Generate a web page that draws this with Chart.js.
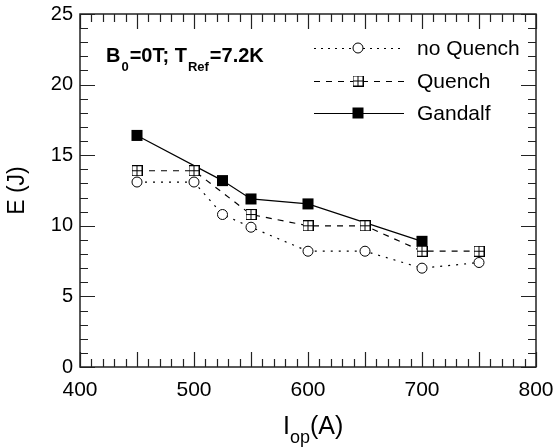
<!DOCTYPE html>
<html>
<head>
<meta charset="utf-8">
<script src="https://cdn.jsdelivr.net/npm/chart.js@4/dist/chart.umd.min.js"></script>
<style>
html,body{margin:0;padding:0;background:#fff;}
#wrap{width:555px;height:448px;position:relative;}
</style>
</head>
<body>
<div id="wrap"><canvas id="c" width="555" height="448"></canvas></div>
<script>
const currents = [450, 500, 525, 550, 600, 650, 700, 750];
const noQuenchX = [450, 500, 525, 550, 600, 650, 700, 750];
const noQuenchE = [13.1, 13.1, 10.8, 9.9, 8.2, 8.2, 7.0, 7.4];
const quenchX = [450, 500, 550, 600, 650, 700, 750];
const quenchE = [13.9, 13.9, 10.8, 10.0, 10.0, 8.2, 8.2];
const gandalfX = [450, 525, 550, 600, 700];
const gandalfE = [16.4, 13.2, 11.9, 11.55, 8.9];
const seriesNames = ['no Quench', 'Quench', 'Gandalf'];
const xTickLabels = [400, 500, 600, 700, 800];
const yTickLabels = [0, 5, 10, 15, 20, 25];

const FONT = '"Liberation Sans", Arial, Helvetica, sans-serif';

function pts(xs, ys){ return xs.map((x,i)=>({x:x, y:ys[i]})); }

// Crossed-square marker image
function crossSquare(size){
  const c = document.createElement('canvas');
  c.width = size; c.height = size;
  const g = c.getContext('2d');
  g.fillStyle = '#fff';
  g.fillRect(0,0,size,size);
  g.strokeStyle = '#000';
  g.lineWidth = 1;
  g.strokeRect(0.5,0.5,size-1,size-1);
  g.beginPath();
  g.moveTo(size/2, 0); g.lineTo(size/2, size);
  g.moveTo(0, size/2); g.lineTo(size, size/2);
  g.stroke();
  return c;
}
const qMarker = crossSquare(11);

const ticksPlugin = {
  id: 'frameTicks',
  afterDraw(chart){
    const ctx = chart.ctx;
    const a = chart.chartArea;
    const xs = chart.scales.x, ys = chart.scales.y;
    ctx.save();
    ctx.strokeStyle = '#222';
    ctx.lineWidth = 1.2;
    for (let v = xs.min; v <= xs.max; v += 10){
      const px = Math.round(xs.getPixelForValue(v)) + 0.5;
      const len = (v % 50 === 0) ? 15 : 8;
      ctx.beginPath();
      ctx.moveTo(px, a.bottom); ctx.lineTo(px, a.bottom - len);
      ctx.moveTo(px, a.top); ctx.lineTo(px, a.top + len);
      ctx.stroke();
    }
    for (let v = ys.min; v <= ys.max; v += 1){
      const py = Math.round(ys.getPixelForValue(v)) + 0.5;
      const len = (v % 5 === 0) ? 15 : 8;
      ctx.beginPath();
      ctx.moveTo(a.left, py); ctx.lineTo(a.left + len, py);
      ctx.moveTo(a.right, py); ctx.lineTo(a.right - len, py);
      ctx.stroke();
    }
    ctx.lineWidth = 1.5;
    ctx.strokeRect(a.left, a.top, a.right - a.left, a.bottom - a.top);

    // Annotation B0=0T; TRef=7.2K
    ctx.fillStyle = '#000';
    ctx.textBaseline = 'alphabetic';
    let x = 106, base = 62;
    const big = 'bold 20px ' + FONT, small = 'bold 13px ' + FONT;
    const parts = [['B', big, 0, 1], ['0', small, 9, 1], ['=0T; T', big, 0, 1], ['Ref', small, 9, 1], ['=7.2K', big, 0, 0]];
    parts.forEach(p => {
      ctx.font = p[1];
      ctx.fillText(p[0], x, base + p[2]);
      x += ctx.measureText(p[0]).width + p[3];
    });

    // X title I_op(A)
    x = 283; base = 434;
    const xt = [['I', '25px ' + FONT, 0], ['op', '18px ' + FONT, 9], ['(A)', '25px ' + FONT, 0]];
    xt.forEach(p => {
      ctx.font = p[1];
      ctx.fillText(p[0], x, base + p[2]);
      x += ctx.measureText(p[0]).width;
    });

    // Legend
    const legendRows = [
      {name: seriesNames[0], y: 48, dash: [2,5], marker: 'circle'},
      {name: seriesNames[1], y: 81, dash: [6,6], marker: 'q'},
      {name: seriesNames[2], y: 113, dash: [], marker: 'fill'}
    ];
    legendRows.forEach(r => {
      ctx.save();
      ctx.strokeStyle = '#000';
      ctx.lineWidth = 1.1;
      ctx.setLineDash(r.dash);
      ctx.beginPath();
      ctx.moveTo(314, r.y + 0.5); ctx.lineTo(404, r.y + 0.5);
      ctx.stroke();
      ctx.restore();
      const mx = 358;
      if (r.marker === 'circle'){
        ctx.beginPath(); ctx.arc(mx, r.y, 5, 0, Math.PI*2);
        ctx.fillStyle = '#fff'; ctx.fill();
        ctx.lineWidth = 1; ctx.strokeStyle = '#000'; ctx.stroke();
      } else if (r.marker === 'q'){
        ctx.drawImage(qMarker, mx - 5.5, r.y - 5.5);
      } else {
        ctx.fillStyle = '#000'; ctx.fillRect(mx - 5.5, r.y - 5.5, 11, 11);
      }
      ctx.fillStyle = '#000';
      ctx.font = '21px ' + FONT;
      ctx.textBaseline = 'middle';
      ctx.fillText(r.name, 417, r.y + 1);
    });
    ctx.restore();
  }
};

new Chart(document.getElementById('c'), {
  type: 'line',
  data: {
    datasets: [
      {
        label: seriesNames[0],
        data: pts(noQuenchX, noQuenchE),
        borderColor: '#000', borderWidth: 1.2, borderDash: [2,6],
        pointStyle: 'circle', pointRadius: 5, pointBorderWidth: 1,
        pointBackgroundColor: '#fff', pointBorderColor: '#000',
        tension: 0, fill: false
      },
      {
        label: seriesNames[1],
        data: pts(quenchX, quenchE),
        borderColor: '#000', borderWidth: 1.2, borderDash: [6,6],
        pointStyle: qMarker, pointRadius: 5.5,
        tension: 0, fill: false
      },
      {
        label: seriesNames[2],
        data: pts(gandalfX, gandalfE),
        borderColor: '#000', borderWidth: 1.2,
        pointStyle: 'rect', pointRadius: 7.8, pointBorderWidth: 0,
        pointBackgroundColor: '#000', pointBorderColor: '#000',
        tension: 0, fill: false
      }
    ]
  },
  options: {
    responsive: false,
    animation: false,
    layout: { padding: { top: 14, right: 19, left: 0, bottom: 0 } },
    plugins: { legend: { display: false }, tooltip: { enabled: false } },
    scales: {
      x: {
        type: 'linear', min: 400, max: 800,
        afterFit(s){ s.height = 81; s.paddingLeft = 0; s.paddingRight = 0; },
        grid: { display: false, drawTicks: false },
        border: { display: false },
        ticks: {
          stepSize: 100, padding: 11, color: '#000',
          font: { family: FONT, size: 21 },
          callback: (v) => xTickLabels.includes(v) ? String(v) : null
        }
      },
      y: {
        min: 0, max: 25,
        afterFit(s){ s.width = 80; s.paddingTop = 0; s.paddingBottom = 0; },
        grid: { display: false, drawTicks: false },
        border: { display: false },
        ticks: {
          stepSize: 5, padding: 7, color: '#000',
          font: { family: FONT, size: 20 },
          callback: (v) => yTickLabels.includes(v) ? String(v) : null
        },
        title: {
          display: true, text: 'E (J)', color: '#000',
          font: { family: FONT, size: 23 },
          padding: { top: 4, bottom: 0 }
        }
      }
    }
  },
  plugins: [ticksPlugin]
});
</script>
</body>
</html>
